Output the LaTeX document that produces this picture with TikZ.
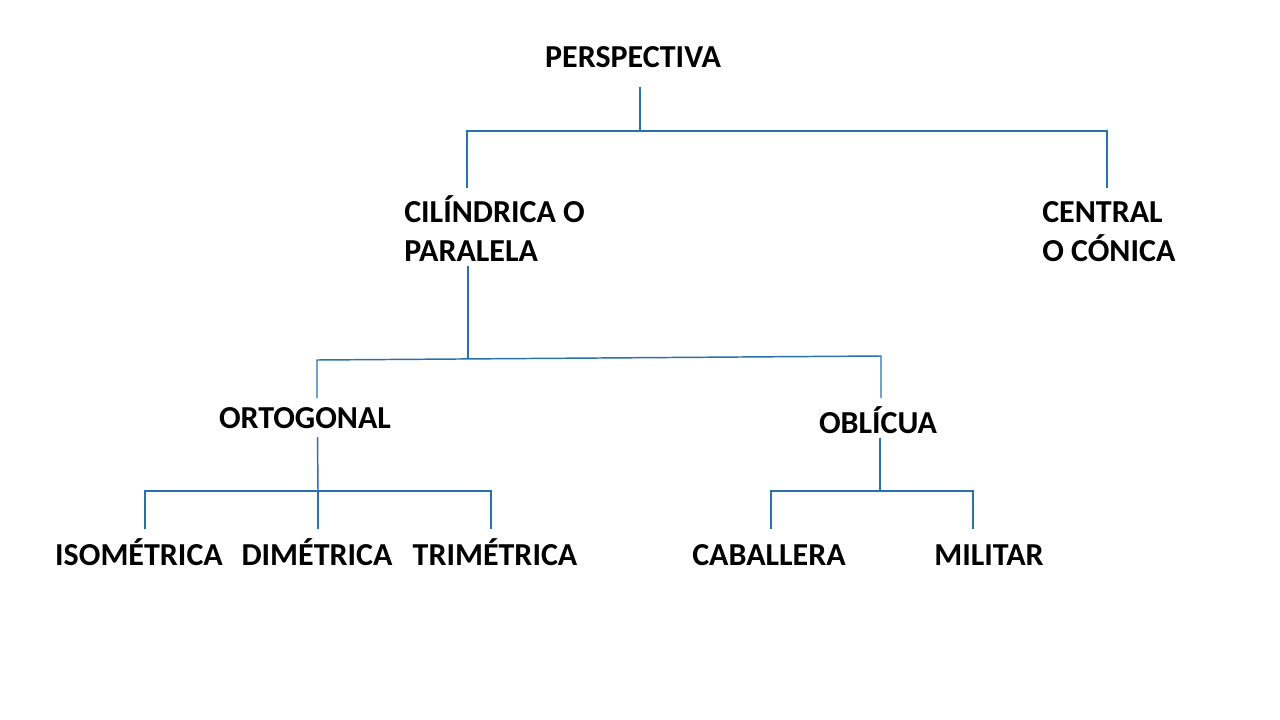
\documentclass[tikz,border=0pt]{standalone}
\usepackage{fontspec}
\setmainfont{Carlito}
\definecolor{lineblue}{RGB}{41,113,170}
\begin{document}
\begin{tikzpicture}[x=0.75pt,y=-0.75pt,
  lbl/.style={font=\fontsize{24}{28.5}\selectfont\bfseries, inner sep=0pt, text=black},
  conn/.style={draw=lineblue, line width=1.1pt}]
\useasboundingbox[fill=white] (0,0) rectangle (1280,720);
% labels
\node[lbl, anchor=base] (persp) at (633,68) {PERSPECTIVA};
\node[lbl, anchor=base west, align=left] (cil) at (404,261) {CILÍNDRICA O\\PARALELA};
\node[lbl, anchor=base west, align=left] (cen) at (1042,261) {CENTRAL\\O CÓNICA};
\node[lbl, anchor=base] (orto) at (305,428) {ORTOGONAL};
\node[lbl, anchor=base] (obl) at (878,433) {OBLÍCUA};
\node[lbl, anchor=base] (iso) at (139,565) {ISOMÉTRICA};
\node[lbl, anchor=base] (dim) at (317,565) {DIMÉTRICA};
\node[lbl, anchor=base] (tri) at (495,565) {TRIMÉTRICA};
\node[lbl, anchor=base] (cab) at (769,565) {CABALLERA};
\node[lbl, anchor=base] (mil) at (989,565) {MILITAR};
% connector points
\coordinate (p0) at (640,87);
\coordinate (p1) at (640,131);
\coordinate (pl) at (467,131);
\coordinate (pr) at (1107,131);
\coordinate (cilt) at (467,188);
\coordinate (cent) at (1107,188);
\coordinate (c0) at (468,266);
\coordinate (c1) at (468,359);
\coordinate (cl) at (317,360);
\coordinate (cr) at (881,356);
\coordinate (ortot) at (317,398);
\coordinate (oblt) at (881,398);
\coordinate (o0) at (317.5,437);
\coordinate (o1) at (318,491);
\coordinate (ol) at (145,491);
\coordinate (or) at (491,491);
\coordinate (isot) at (145,529);
\coordinate (dimt) at (318,529);
\coordinate (trit) at (491,529);
\coordinate (b0) at (880,438);
\coordinate (b1) at (880,491);
\coordinate (bl) at (771,491);
\coordinate (br) at (973,491);
\coordinate (cabt) at (771,529);
\coordinate (milt) at (973,529);
% connectors
\draw[conn] (p0) -- (p1);
\draw[conn] (cilt) -- (pl) -- (pr) -- (cent);
\draw[conn] (c0) -- (c1);
\draw[conn] (ortot) -- (cl) -- (cr) -- (oblt);
\draw[conn] (o0) -- (o1);
\draw[conn] (isot) -- (ol) -- (or) -- (trit);
\draw[conn] (o1) -- (dimt);
\draw[conn] (b0) -- (b1);
\draw[conn] (cabt) -- (bl) -- (br) -- (milt);
\end{tikzpicture}
\end{document}
